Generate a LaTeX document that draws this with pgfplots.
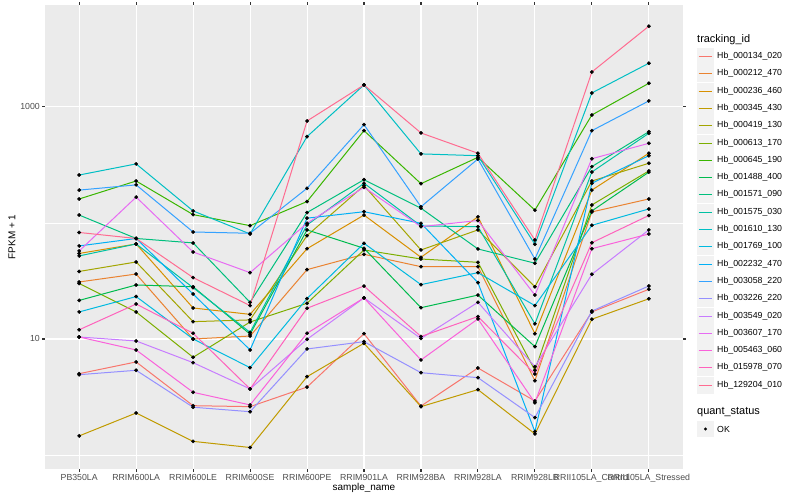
\documentclass[border=0pt]{standalone}
\usepackage{pgfplots}
\pgfplotsset{compat=1.18}
\usepackage{pgfplotstable}
\usepackage{fontspec}
\setmainfont{Liberation Sans}
\definecolor{c1}{HTML}{F8766D}
\definecolor{c2}{HTML}{EA8331}
\definecolor{c3}{HTML}{D89000}
\definecolor{c4}{HTML}{C09B00}
\definecolor{c5}{HTML}{A3A500}
\definecolor{c6}{HTML}{7CAE00}
\definecolor{c7}{HTML}{39B600}
\definecolor{c8}{HTML}{00BB4E}
\definecolor{c9}{HTML}{00BF7D}
\definecolor{c10}{HTML}{00C1A3}
\definecolor{c11}{HTML}{00BFC4}
\definecolor{c12}{HTML}{00BAE0}
\definecolor{c13}{HTML}{00B0F6}
\definecolor{c14}{HTML}{35A2FF}
\definecolor{c15}{HTML}{9590FF}
\definecolor{c16}{HTML}{C77CFF}
\definecolor{c17}{HTML}{E76BF3}
\definecolor{c18}{HTML}{FA62DB}
\definecolor{c19}{HTML}{FF62BC}
\definecolor{c20}{HTML}{FF6C91}
\definecolor{panelbg}{HTML}{EBEBEB}
\definecolor{keybg}{HTML}{F2F2F2}
\definecolor{ticktext}{HTML}{4D4D4D}
\definecolor{tickdark}{HTML}{333333}

% rows = samples (0..10), columns = tracking ids s1..s20 (FPKM + 1)
\pgfplotstableread{
x  s1    s2    s3    s4    s5    s6    s7    s8    s9    s10   s11   s12   s13   s14   s15   s16   s17   s18   s19   s20
0  5.02  31.0  54.6  1.46  38.2  30.1  161   21.5  117   52.0  259   17.1  63.4  192   4.92  10.4  57.4  10.4  12.0  82.8
1  6.34  36.3  65.9  2.30  46.1  17.1  230   29.2  73.5  65.9  323   23.2  73.5  213   5.37  9.61  167   8.04  20.0  73.5
2  2.66  10.0  18.5  1.31  14.1  6.95  118   28.2  67.3  27.7  127   10.0  24.4  83.6  2.58  6.25  56.2  3.47  11.2  33.8
3  2.61  10.6  16.3  1.16  14.6  14.0  94.8  11.0  20.7  11.4  80.4  5.66  8.04  81.5  2.36  3.71  37.3  2.70  3.71  19.4
4  3.85  39.6  60.0  4.73  77.8  20.3  153   87.1  123   96.1  555   22.3  110   199   8.20  9.94  99.4  11.2  18.4  757
5  11.1  53.7  117   9.18  210   58.5  625   60.5  236   220   1549  66.8  125   704   9.48  22.6  203   22.6  28.6  1549
6  2.64  42.0  50.6  2.61  58.5  48.9  218   18.6  134   94.2  394   29.4  99.4  138   5.12  10.1  92.9  6.59  10.5  597
7  5.62  42.0  113   3.66  87.1  45.8  368   23.9  59.7  92.9  380   37.3  30.6  356   4.64  20.7  105   14.9  15.6  399
8  2.92  4.37  11.1  1.52  28.2  5.37  129   8.59  45.0  13.5  65.5  19.4  1.59  48.9  2.10  5.77  23.9  2.82  4.99  71.3
9  17.1  124.5 192   14.8  230   143   853   127   306   275   1321  95.5  220   625   17.4  36.1  358   60.0  67.6  2004
10 26.8  161   399   22.2  327   281   1600  274   612   593   2382  132   380   1127  28.6  87.1  486   80.4  116   4966
}\data

\begin{document}
\begin{tikzpicture}
\path[use as bounding box] (0bp,0bp) rectangle (800bp,500bp);
\fill[white] (0bp,0bp) rectangle (800bp,500bp);
\begin{axis}[
  at={(45bp,31bp)}, anchor=south west,
  scale only axis, width=638bp, height=464bp,
  xmin=-0.6, xmax=10.6,
  ymode=log, ymin=0.757, ymax=7568,
  axis background/.style={fill=panelbg},
  axis line style={draw=none},
  xtick={0,...,10},
  xticklabels={PB350LA,RRIM600LA,RRIM600LE,RRIM600SE,RRIM600PE,RRIM901LA,RRIM928BA,RRIM928LA,RRIM928LB,RRII105LA\_Control,RRII105LA\_Stressed},
  ytick={10,1000}, yticklabels={10,1000},
  minor ytick={1,100},
  xmajorgrids, ymajorgrids, yminorgrids,
  major grid style={white, line width=1.07bp},
  minor grid style={white, line width=0.53bp},
  tick align=outside,
  major tick length=2.74bp, minor tick length=0pt,
  major tick style={draw=tickdark, line width=1.07bp},
  tick label style={font=\fontsize{8.8}{10}\selectfont, text=ticktext},
  xticklabel style={inner sep=0pt, anchor=north, yshift=-2.2bp},
  yticklabel style={inner sep=0pt, anchor=east, xshift=-2.2bp},
  xlabel={sample\_name}, ylabel={FPKM + 1},
  label style={font=\fontsize{11}{13}\selectfont},
  every axis x label/.style={at={(axis description cs:0.5,-0.041)}, anchor=center},
  every axis y label/.style={at={(axis description cs:-0.0517,0.5)}, anchor=center, rotate=90},
]
\pgfplotsinvokeforeach{1,...,20}{
  \addplot[color=c#1, line width=1bp, mark=none] table[x=x, y=s#1]{\data};
}
\pgfplotsinvokeforeach{1,...,20}{
  \addplot[only marks, mark=*, mark size=1.7bp, draw=black, fill=black, forget plot] table[x=x, y=s#1]{\data};
}
\end{axis}
% legend: tracking_id
\node[anchor=west, inner sep=0pt, font=\fontsize{11}{13}\selectfont] at (697bp,460bp) {tracking\_id};
\foreach \n [count=\i] in {000134\_020,000212\_470,000236\_460,000345\_430,000419\_130,000613\_170,000645\_190,001488\_400,001571\_090,001575\_030,001610\_130,001769\_100,002232\_470,003058\_220,003226\_220,003549\_020,003607\_170,005463\_060,015978\_070,129204\_010}{
  \pgfmathsetmacro{\yy}{443.5-round((\i-1)*17.3)}
  \fill[keybg] (697bp,{(\yy-8.3)*1bp}) rectangle (714bp,{(\yy+8.3)*1bp});
  \draw[color=c\i, line width=1.2bp] (698.7bp,\yy bp) -- (712.3bp,\yy bp);
  \node[anchor=west, inner sep=0pt, font=\fontsize{8.8}{10}\selectfont] at (717bp,\yy bp) {Hb\_\n};
}
% legend: quant_status
\node[anchor=west, inner sep=0pt, font=\fontsize{11}{13}\selectfont] at (697bp,88bp) {quant\_status};
\fill[keybg] (697bp,62.7bp) rectangle (714bp,79.3bp);
\fill[black] (705.5bp,71bp) circle (1.7bp);
\node[anchor=west, inner sep=0pt, font=\fontsize{8.8}{10}\selectfont] at (717bp,71bp) {OK};
\end{tikzpicture}
\end{document}
